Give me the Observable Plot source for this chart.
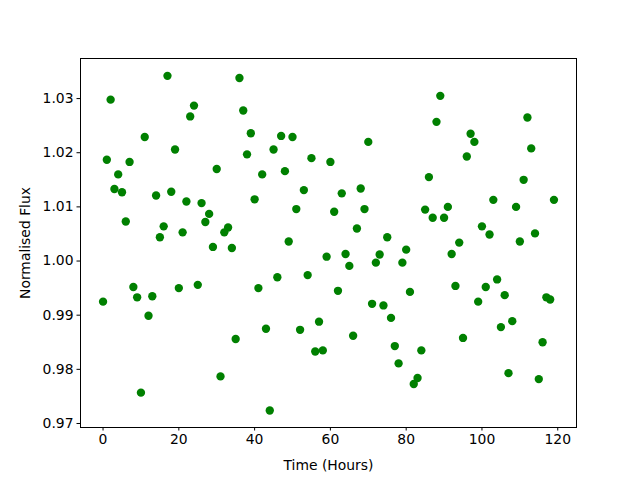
<!DOCTYPE html>
<html>
<head>
<meta charset="utf-8">
<script src="https://cdn.jsdelivr.net/npm/d3@7"></script>
<script src="https://cdn.jsdelivr.net/npm/@observablehq/plot@0.6"></script>
<style>
  html, body { margin: 0; padding: 0; background: white; }
</style>
</head>
<body>
<div id="chart"></div>
<script>
const timeHours = d3.range(0, 120);
const flux = [
  0.9925, 1.0187, 1.0298, 1.0133, 1.0160, 1.0127, 1.0073, 1.0183, 0.9952, 0.9933,
  0.9757, 1.0229, 0.9899, 0.9935, 1.0121, 1.0044, 1.0064, 1.0342, 1.0128, 1.0206,
  0.9950, 1.0053, 1.0110, 1.0267, 1.0287, 0.9956, 1.0107, 1.0072, 1.0087, 1.0026,
  1.0170, 0.9787, 1.0053, 1.0062, 1.0024, 0.9856, 1.0338, 1.0278, 1.0197, 1.0236,
  1.0114, 0.9950, 1.0160, 0.9875, 0.9724, 1.0206, 0.9970, 1.0231, 1.0166, 1.0036,
  1.0229, 1.0096, 0.9873, 1.0131, 0.9974, 1.0190, 0.9833, 0.9888, 0.9835, 1.0008,
  1.0183, 1.0091, 0.9945, 1.0125, 1.0013, 0.9991, 0.9862, 1.0060, 1.0134, 1.0096,
  1.0220, 0.9921, 0.9997, 1.0012, 0.9918, 1.0044, 0.9895, 0.9843, 0.9811, 0.9997,
  1.0021, 0.9943, 0.9773, 0.9784, 0.9835, 1.0095, 1.0155, 1.0080, 1.0257, 1.0305,
  1.0080, 1.0100, 1.0013, 0.9954, 1.0034, 0.9858, 1.0193, 1.0235, 1.0220, 0.9925,
  1.0064, 0.9952, 1.0049, 1.0113, 0.9966, 0.9878, 0.9937, 0.9793, 0.9889, 1.0100,
  1.0036, 1.0150, 1.0265, 1.0208, 1.0051, 0.9782, 0.9850, 0.9933, 0.9929, 1.0113
];
const xTicks = [0, 20, 40, 60, 80, 100, 120];
const yTicks = [0.97, 0.98, 0.99, 1.00, 1.01, 1.02, 1.03];
const xLabel = "Time (Hours)";
const yLabel = "Normalised Flux";

const data = timeHours.map((t, i) => ({t, f: flux[i]}));

const chart = Plot.plot({
  width: 640,
  height: 480,
  marginLeft: 80,
  marginRight: 64,
  marginTop: 58,
  marginBottom: 53,
  style: {fontFamily: "DejaVu Sans", fontSize: "13.9px", background: "white", color: "black", overflow: "visible"},
  x: {domain: [-5.95, 124.95]},
  y: {domain: [0.96926, 1.0374]},
  marks: [
    Plot.dot(data, {x: "t", y: "f", r: 4.17, fill: "#008000", stroke: "none"}),
    Plot.frame({stroke: "black", strokeWidth: 1}),
    Plot.axisX({ticks: xTicks, tickSize: 3.5, tickPadding: 3.5, tickFormat: d3.format("d"),
      label: xLabel, labelAnchor: "center", labelArrow: "none", labelOffset: 42}),
    Plot.axisY({ticks: yTicks, tickSize: 3.5, tickPadding: 3.5, tickFormat: d3.format(".2f"),
      label: yLabel, labelAnchor: "center", labelArrow: "none", labelOffset: 60})
  ]
});
document.getElementById("chart").appendChild(chart);
</script>
</body>
</html>
